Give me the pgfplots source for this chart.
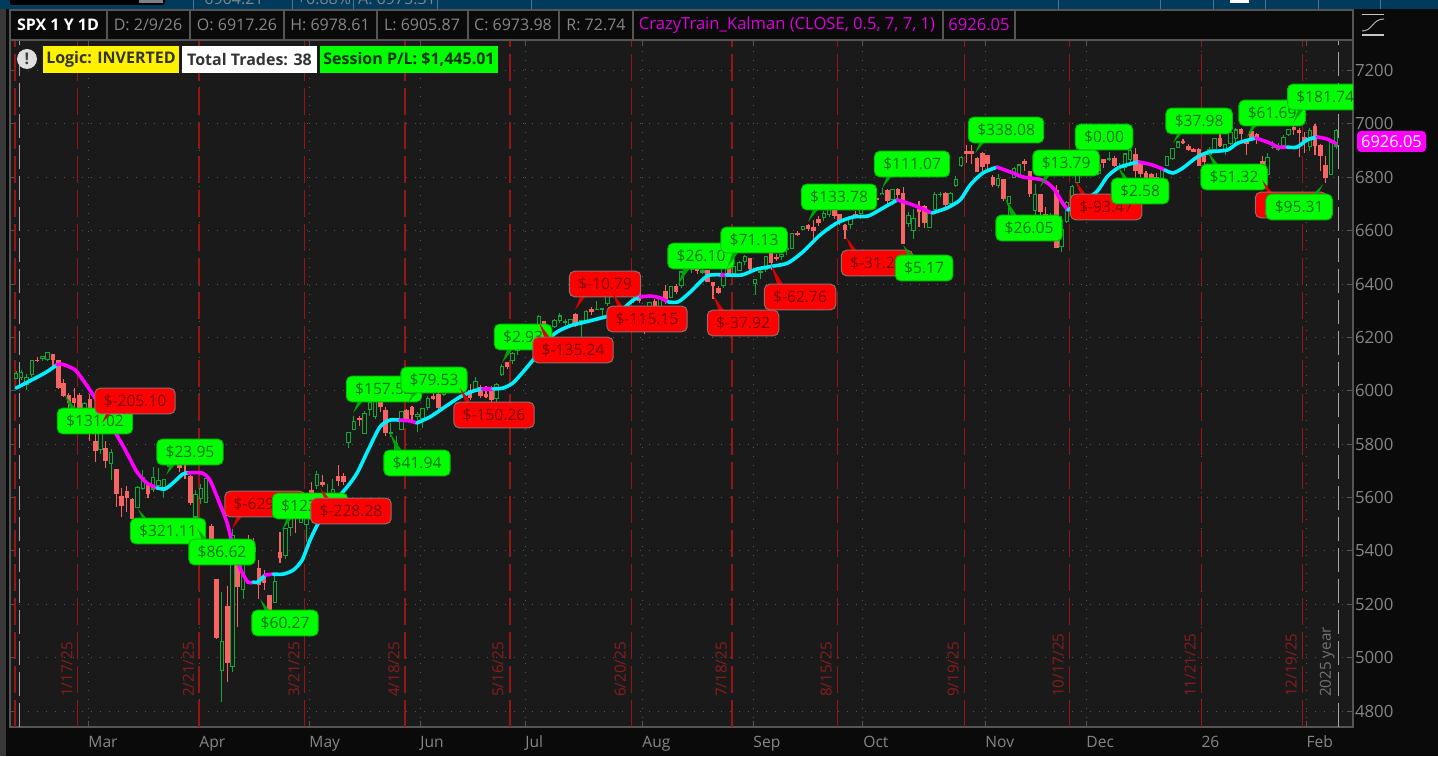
\documentclass[border=0pt]{standalone}
\usepackage{fontspec}
\setmainfont{Open Sans}
\usepackage{pgfplots}
\usepackage{pgfplotstable}
\pgfplotsset{compat=1.18}

\definecolor{chartbg}{HTML}{1A1A1A}
\definecolor{outerbg}{HTML}{0A0A0A}
\definecolor{topblue}{HTML}{003A5C}
\definecolor{frameg}{HTML}{555555}
\definecolor{axistxt}{HTML}{868686}
\definecolor{upgreen}{HTML}{12A838}
\definecolor{downred}{HTML}{F86464}
\definecolor{optred}{HTML}{961616}
\definecolor{optlab}{HTML}{8A1C1C}
\definecolor{kcyan}{HTML}{00F0FF}
\definecolor{kmag}{HTML}{FF00FF}
\definecolor{limeg}{HTML}{00FF00}
\definecolor{pure}{HTML}{FF0000}
\definecolor{gtxt}{HTML}{066F06}
\definecolor{rtxt}{HTML}{7A0000}

% bars: index, open, high, low, close
\pgfplotstableread{
i o h l c
0 6046 6073 6046 6066
1 6049 6076 6042 6068
2 6025 6064 6003 6051
3 6060 6116 6051 6115
5 6121 6130 6111 6129
6 6118 6147 6111 6144
13 5856 5959 5837 5954
16 5781 5860 5762 5842
18 5726 5783 5666 5770
23 5563 5645 5563 5638
24 5635 5703 5629 5675
26 5632 5716 5622 5675
27 5646 5711 5632 5662
28 5630 5670 5603 5667
29 5718 5775 5718 5767
30 5775 5786 5764 5776
34 5527 5627 5488 5611
35 5597 5650 5574 5633
36 5581 5682 5581 5670
39 4953 5246 4835 5062
41 4966 5481 4948 5456
43 5255 5371 5220 5363
49 5207 5306 5207 5287
51 5381 5486 5371 5484
52 5489 5528 5455 5525
54 5508 5572 5505 5560
55 5500 5581 5434 5569
57 5645 5700 5632 5686
59 5606 5649 5590 5606
60 5614 5668 5579 5631
63 5807 5845 5786 5844
64 5854 5906 5853 5886
66 5841 5925 5840 5916
67 5929 5959 5907 5958
68 5902 5968 5896 5963
71 5841 5878 5825 5842
72 5781 5829 5767 5802
73 5855 5922 5855 5921
76 5903 5921 5844 5911
77 5897 5937 5861 5935
78 5938 5981 5929 5970
81 5987 6016 5979 6000
82 6005 6022 5993 6005
83 6009 6044 5999 6038
85 6010 6046 6003 6045
87 6005 6050 6005 6033
91 5970 6028 5943 6025
92 6060 6101 6057 6092
94 6112 6146 6101 6141
95 6150 6187 6133 6173
96 6193 6215 6175 6205
97 6187 6210 6177 6198
98 6192 6227 6187 6227
99 6246 6285 6245 6279
102 6241 6269 6237 6263
103 6263 6290 6255 6280
104 6255 6269 6245 6259
105 6248 6270 6240 6268
107 6248 6267 6202 6263
108 6264 6302 6263 6297
110 6304 6336 6301 6305
111 6306 6310 6281 6309
112 6326 6360 6318 6358
114 6370 6395 6366 6388
120 6287 6330 6287 6330
122 6309 6352 6301 6345
124 6350 6394 6350 6389
126 6395 6447 6386 6445
127 6460 6480 6450 6466
128 6453 6474 6441 6469
130 6445 6456 6438 6449
134 6394 6480 6385 6467
136 6440 6468 6436 6465
137 6452 6486 6452 6481
138 6483 6508 6470 6502
140 6401 6416 6360 6416
141 6445 6458 6417 6448
142 6456 6503 6446 6502
145 6505 6512 6490 6512
146 6530 6542 6510 6532
147 6533 6588 6532 6588
149 6603 6619 6602 6615
153 6650 6672 6635 6664
154 6660 6696 6651 6694
158 6622 6650 6605 6644
160 6665 6690 6645 6688
161 6685 6718 6680 6711
164 6735 6760 6732 6740
166 6718 6755 6716 6753
169 6625 6670 6612 6655
170 6600 6680 6570 6645
173 6610 6665 6610 6664
174 6680 6745 6678 6735
175 6735 6745 6725 6736
177 6700 6745 6695 6738
178 6770 6805 6765 6792
179 6845 6880 6840 6875
186 6770 6812 6760 6796
188 6700 6730 6660 6728
189 6800 6840 6798 6832
190 6810 6850 6805 6846
193 6675 6775 6650 6735
196 6620 6665 6600 6642
198 6540 6655 6520 6603
199 6635 6710 6630 6705
200 6700 6770 6690 6766
201 6780 6815 6775 6813
202 6820 6850 6815 6849
203 6810 6845 6805 6812
205 6815 6850 6810 6849
207 6866 6895 6860 6870
209 6835 6855 6830 6840
210 6835 6890 6825 6887
211 6865 6905 6845 6901
217 6790 6835 6785 6834
218 6845 6880 6845 6878
219 6870 6910 6865 6909
220 6910 6935 6908 6932
226 6885 6915 6880 6902
227 6905 6945 6895 6944
229 6905 6925 6885 6921
230 6925 6980 6920 6966
231 6945 6985 6930 6977
237 6810 6890 6790 6875
238 6910 6935 6905 6913
239 6905 6930 6900 6916
240 6920 6960 6920 6950
241 6960 6980 6955 6978
245 6915 6985 6900 6976
249 6810 6940 6810 6932
250 6917 6979 6906 6974
}\upbars

\pgfplotstableread{
i o h l c
4 6115 6127 6107 6114
7 6134 6134 6084 6117
8 6114 6115 6008 6013
9 6027 6043 5977 5983
10 5982 5992 5908 5955
11 5970 6009 5932 5956
12 5981 5993 5858 5861
14 5968 5986 5810 5849
15 5811 5865 5732 5778
17 5785 5812 5711 5738
19 5705 5705 5565 5614
20 5604 5636 5528 5572
21 5624 5642 5546 5599
22 5594 5597 5504 5521
25 5654 5654 5597 5614
31 5781 5785 5696 5712
32 5695 5732 5670 5693
33 5679 5685 5572 5580
37 5492 5500 5390 5396
38 5292 5292 5069 5074
40 5193 5267 4910 4982
42 5354 5354 5115 5268
44 5441 5460 5359 5405
45 5411 5450 5386 5396
46 5335 5367 5220 5275
47 5305 5328 5255 5283
48 5232 5233 5101 5158
50 5395 5469 5356 5375
53 5529 5553 5468 5528
56 5626 5659 5597 5604
58 5655 5683 5640 5650
61 5680 5720 5644 5663
62 5677 5691 5646 5660
65 5897 5907 5868 5892
69 5981 5987 5922 5940
70 5927 5939 5830 5844
74 5926 5930 5883 5888
75 5939 5944 5879 5912
79 5978 5990 5967 5970
80 5985 5999 5921 5939
84 6050 6060 6003 6022
86 6000 6026 5964 5976
88 6012 6023 5974 5982
89 5987 6018 5971 5980
90 6005 6018 5952 5967
93 6104 6108 6081 6092
100 6260 6263 6201 6229
101 6230 6242 6216 6225
106 6285 6292 6240 6243
109 6305 6315 6285 6296
113 6368 6382 6360 6363
115 6397 6401 6375 6389
116 6410 6410 6362 6371
117 6379 6394 6328 6362
118 6427 6428 6330 6339
119 6287 6288 6212 6238
121 6336 6345 6293 6299
123 6372 6395 6325 6340
125 6390 6400 6361 6373
129 6478 6481 6437 6450
131 6449 6454 6408 6411
132 6407 6408 6343 6396
133 6384 6393 6363 6370
135 6460 6466 6438 6439
139 6495 6495 6444 6460
143 6530 6533 6451 6482
144 6498 6511 6485 6495
148 6590 6600 6580 6584
150 6620 6626 6600 6607
151 6610 6639 6552 6600
152 6640 6656 6618 6632
155 6692 6698 6642 6656
156 6660 6662 6620 6638
157 6620 6624 6570 6605
159 6662 6675 6650 6661
162 6732 6733 6700 6715
163 6722 6750 6705 6715
165 6750 6755 6700 6714
167 6755 6758 6710 6735
168 6740 6765 6550 6553
171 6680 6710 6615 6671
172 6690 6695 6610 6630
176 6738 6745 6685 6699
180 6895 6920 6855 6890
181 6895 6920 6850 6890
182 6870 6875 6820 6822
183 6890 6895 6825 6840
184 6880 6880 6825 6852
185 6800 6810 6765 6772
187 6790 6795 6710 6720
191 6860 6870 6825 6850
192 6820 6825 6725 6738
194 6735 6735 6650 6672
195 6660 6690 6605 6618
197 6750 6770 6535 6538
204 6830 6850 6810 6829
206 6865 6865 6835 6857
208 6872 6880 6840 6846
212 6885 6910 6800 6827
213 6860 6862 6800 6816
214 6815 6825 6775 6800
215 6810 6815 6720 6722
216 6800 6815 6768 6775
221 6935 6945 6925 6929
222 6915 6925 6900 6905
223 6905 6910 6895 6896
224 6905 6910 6845 6845
225 6880 6895 6825 6858
228 6945 6965 6915 6920
232 6978 6985 6935 6963
233 6935 6945 6885 6926
234 6970 6985 6940 6944
235 6960 6965 6925 6940
236 6860 6880 6790 6797
242 6985 7002 6960 6978
243 6975 6985 6875 6969
244 6950 6970 6890 6939
246 6990 7000 6885 6918
247 6920 6925 6825 6883
248 6845 6880 6780 6798
}\downbars

\pgfplotsset{
  segbar/.style 2 args={draw=none, mark=none, forget plot,
    error bars/.cd, y dir=plus, y explicit, error mark=none,
    error bar style={draw=#1, line width=#2, solid, line cap=butt}},
  kal/.style={#1, line width=1.8pt, smooth, tension=0.45, mark=none, forget plot, line cap=round},
}

% annotations are given in screen pixels of the reference
\newcommand{\bub}[7][10]{%
  \fill[#2tip] (axis cs:{(#5-16)/5.28},{7200-(#6-70.5)*3.747})
    -- (axis cs:{(#5+#1-16)/5.28},{7200-(#4-70.5)*3.747})
    -- (axis cs:{(#5+#1+10-16)/5.28},{7200-(#4-70.5)*3.747}) -- cycle;
  \node[#2bub] at (axis cs:{(#3-16)/5.28},{7200-(#4-70.5)*3.747}) {\$#7};
}
\newcommand{\optlabel}[2]{%
  \node[rotate=90, anchor=west, inner sep=0pt, text=optlab, font=\fontsize{7.6}{9}\selectfont]
    at (axis cs:{(#1-16)/5.28},4852) {#2};
}

\tikzset{
  bubbase/.style={rounded corners=2.6pt, minimum height=12.8pt, inner ysep=0pt, inner xsep=4.4pt,
    line width=.5pt, font=\fontsize{7.8}{9}\selectfont},
  gbub/.style={bubbase, fill=limeg, draw=limeg!75!black, text=gtxt},
  rbub/.style={bubbase, fill=pure, draw=gray!85!red, text=rtxt},
  gtip/.style={fill=limeg!65!black},
  rtip/.style={fill=pure!85!black},
  hdr/.style={font=\fontsize{8}{9}\selectfont, text=axistxt, inner sep=0pt},
  chip/.style={font=\bfseries\fontsize{8}{9}\selectfont, inner sep=0pt, anchor=center},
}

\begin{document}
\begin{tikzpicture}
\useasboundingbox[fill=outerbg] (0,0) rectangle (719pt,378pt);

\begin{axis}[
  at={(5pt,14.5pt)}, anchor=south west,
  scale only axis, width=671.5pt, height=343.5pt,
  xmin=-1.136, xmax=253.2, ymin=4740.1, ymax=7314.3,
  axis background/.style={fill=chartbg},
  axis line style={draw=frameg, line width=.7pt},
  tick style={draw=frameg, line width=.5pt},
  tick align=inside, major tick length=3pt,
  xtick={13.64,34.66,55.49,76.52,96.4,118.56,139.58,160.4,183.52,202.65,224.43,244.32},
  xticklabels={Mar,Apr,May,Jun,Jul,Aug,Sep,Oct,Nov,Dec,26,Feb},
  ytick={4800,5000,5200,5400,5600,5800,6000,6200,6400,6600,6800,7000,7200},
  xticklabel pos=lower, yticklabel pos=right,
  xticklabel style={anchor=base west, inner sep=0pt, yshift=-10.3pt, text=axistxt, font=\fontsize{7.8}{9}\selectfont},
  yticklabel style={anchor=west, inner sep=0pt, xshift=.8pt, text=axistxt, font=\fontsize{8.4}{9}\selectfont,
    /pgf/number format/assume math mode=true, /pgf/number format/set thousands separator={}},
  grid=major,
  major grid style={draw=frameg, line width=.5pt, dash pattern=on .5pt off 4pt},
]

% option expiry and range markers
\pgfplotsinvokeforeach{-0.19,11.65,34.66,54.55,73.67,93.56,116.48,135.6,155.5,179.55,199.43,224.43,243.56}{
  \draw[optred, line width=.55pt, dash pattern=on 13.5pt off 3.5pt] (axis cs:#1,4740.1) -- (axis cs:#1,7314.3);
}
\pgfplotsinvokeforeach{0.57,250.38}{
  \draw[gray!70, line width=.5pt, dash pattern=on 12pt off 3.5pt] (axis cs:#1,4740.1) -- (axis cs:#1,7314.3);
}
\optlabel{67}{1/17/25}
\optlabel{188.5}{2/21/25}
\optlabel{294}{3/21/25}
\optlabel{394}{4/18/25}
\optlabel{498}{5/16/25}
\optlabel{620}{6/20/25}
\optlabel{721}{7/18/25}
\optlabel{826}{8/15/25}
\optlabel{953}{9/19/25}
\optlabel{1058}{10/17/25}
\optlabel{1190}{11/21/25}
\optlabel{1291}{12/19/25}
\node[rotate=90, anchor=west, inner sep=0pt, text=gray!90!black, font=\fontsize{7.6}{9}\selectfont]
  at (axis cs:{(1327-16)/5.28},4852) {2025 year};

% candles: wicks, then bodies (up bars are hollow)
\addplot[segbar={upgreen}{.5pt}] table[x=i, y=l, y error plus expr={\thisrow{h}-\thisrow{l}}] {\upbars};
\addplot[segbar={downred}{.55pt}] table[x=i, y=l, y error plus expr={\thisrow{h}-\thisrow{l}}] {\downbars};
\addplot[segbar={upgreen}{2.2pt}] table[x=i, y expr={\thisrow{o}-2}, y error plus expr={\thisrow{c}-\thisrow{o}+4}] {\upbars};
\addplot[segbar={chartbg}{1.2pt}] table[x=i, y expr={\thisrow{o}+2}, y error plus expr={max(\thisrow{c}-\thisrow{o}-4,0)}] {\upbars};
\addplot[segbar={downred}{2.3pt}] table[x=i, y expr={\thisrow{c}-2}, y error plus expr={\thisrow{o}-\thisrow{c}+4}] {\downbars};

% Kalman line, one piece per trend state
\addplot[kal=kcyan] coordinates {(0,6010) (2.65,6037) (5.5,6067) (7.77,6097)};
\addplot[kal=kmag] coordinates {(7.77,6097) (8.7,6100) (11.2,6078) (13.07,6029) (14.6,5984) (19.1,5834) (21,5767) (22.9,5696) (24.8,5654) (26.7,5636)};
\addplot[kal=kcyan] coordinates {(26.7,5636) (28.2,5632) (29.7,5654) (31.6,5688) (32.6,5692)};
\addplot[kal=kmag] coordinates {(32.6,5692) (35.2,5692) (36.7,5666) (38.3,5591) (40,5504) (41.1,5415) (42.4,5336) (43.9,5283) (44.9,5283)};
\addplot[kal=kcyan] coordinates {(44.9,5283) (45.8,5283) (47.2,5310)};
\addplot[kal=kmag] coordinates {(47.2,5310) (48.7,5313)};
\addplot[kal=kcyan] coordinates {(48.7,5313) (50.6,5313) (52.5,5328) (54.2,5366) (55.7,5441) (57.6,5516) (60,5579) (62.7,5639) (64.6,5692) (66.7,5778) (68.9,5864) (70.8,5890) (72.7,5890)};
\addplot[kal=kmag] coordinates {(72.7,5890) (74.6,5887) (75.9,5879)};
\addplot[kal=kcyan] coordinates {(75.9,5879) (78.4,5902) (80.9,5935) (84.1,5977) (86.6,5999) (88.4,6007)};
\addplot[kal=kmag] coordinates {(88.4,6007) (90.3,6007)};
\addplot[kal=kcyan] coordinates {(90.3,6007) (92.2,6010) (94.1,6029) (96,6070) (97.9,6115) (101.7,6209) (104.9,6243) (109.3,6265) (113.8,6291) (116.9,6340) (118.2,6351)};
\addplot[kal=kmag] coordinates {(118.2,6351) (120.1,6355) (122,6348) (123.5,6333)};
\addplot[kal=kcyan] coordinates {(123.5,6333) (125.4,6333) (127.7,6370) (130.9,6430) (133.7,6434)};
\addplot[kal=kmag] coordinates {(133.7,6434) (134.5,6434)};
\addplot[kal=kcyan] coordinates {(134.5,6434) (137.5,6434) (140.3,6456) (143.4,6467) (146.2,6479) (149,6520) (152.3,6584) (155.5,6629) (158.5,6651) (161.4,6655) (164.2,6685) (166.9,6715)};
\addplot[kal=kmag] coordinates {(166.9,6715) (169.9,6696) (173.5,6666)};
\addplot[kal=kcyan] coordinates {(173.5,6666) (176.3,6685) (178.8,6715) (180.7,6771) (183.1,6816) (185.8,6838)};
\addplot[kal=kmag] coordinates {(185.8,6838) (188.8,6816) (190.7,6801) (194.3,6790) (196.4,6760) (198.1,6707) (199.2,6677)};
\addplot[kal=kcyan] coordinates {(199.2,6677) (204.4,6741) (206.6,6801) (208.7,6835) (211,6850) (212.7,6857)};
\addplot[kal=kmag] coordinates {(212.7,6857) (215.2,6846) (217.6,6827)};
\addplot[kal=kcyan] coordinates {(217.6,6827) (219.1,6816) (221,6835) (223.7,6876) (226.1,6895) (229.4,6902) (231.4,6928) (234.8,6947)};
\addplot[kal=kmag] coordinates {(234.8,6947) (237.5,6928) (239,6913) (240.7,6913)};
\addplot[kal=kcyan] coordinates {(240.7,6913) (242.6,6913) (244.5,6940) (246.4,6951)};
\addplot[kal=kmag] coordinates {(246.4,6951) (248.3,6943) (250,6926.05)};

% trade bubbles
\bub{g}{95}{421}{65}{395}{131.02}
\bub{r}{135}{401}{102}{423}{-205.10}
\bub{g}{190}{452}{166}{475}{23.95}
\bub{g}{168}{531}{138}{509}{321.11}
\bub{g}{222}{552}{197}{528}{86.62}
\bub{r}{265}{504}{232}{529}{-629.50}
\bub{g}{310}{506}{282}{530}{123.40}
\bub{r}{351}{511}{320}{488}{-228.28}
\bub{g}{285}{623}{260}{599}{60.27}
\bub{g}{384}{389}{353}{413}{157.52}
\bub{g}{434}{380}{408}{403}{79.53}
\bub{g}{417}{463}{390}{433}{41.94}
\bub{r}{494}{415}{460}{388}{-150.26}
\bub{g}{523}{337}{502}{363}{2.93}
\bub{r}{573}{350}{539}{323}{-135.24}
\bub{r}{605}{284}{575}{310}{-10.79}
\bub{r}{647}{319}{612}{292}{-115.15}
\bub{g}{701}{256}{678}{285}{26.10}
\bub{g}{754}{240}{727}{268}{71.13}
\bub{r}{743}{323}{713}{295}{-37.92}
\bub{r}{800}{297}{771}{265}{-62.76}
\bub{g}{839}{197}{808}{222}{133.78}
\bub{r}{877}{263}{846}{237}{-31.25}
\bub{g}{924}{268}{903}{245}{5.17}
\bub{g}{912}{164}{882}{188}{111.07}
\bub{g}{1006}{130}{975}{153}{338.08}
\bub{g}{1029}{228}{1005}{198}{26.05}
\bub{g}{1104}{137}{1085}{158}{0.00}
\bub{g}{1066}{163}{1040}{187}{13.79}
\bub{r}{1106}{207}{1075}{180}{-93.47}
\bub{g}{1140}{191}{1118}{167}{2.58}
\bub{g}{1199}{121}{1173}{143}{37.98}
\bub{g}{1234}{177}{1208}{152}{51.32}
\bub{g}{1272}{113}{1247}{137}{61.69}
\bub{g}{1325}{97}{1293}{123}{181.74}
\bub{r}{1291}{205}{1262}{180}{-74.60}
\bub[-22]{g}{1299}{207}{1323}{184}{95.31}
\end{axis}

% platform chrome, in reference pixels
\begin{scope}[x=.5pt, y=-.5pt, yshift=378pt]
  \fill[black!78] (0,0) rectangle (6,756);
  \fill[topblue] (0,0) rectangle (1438,9.5);
  \begin{scope}
    \clip (0,0) rectangle (1438,9.5);
    \node[hdr] at (234,-1) {6964.21};
    \node[hdr] at (324,-1) {+0.88\%};
    \node[hdr] at (397,-1) {A: 6975.31};
    \foreach \s in {193,292,353,437,531,1058,1160,1213,1265,1318,1380}
      \draw[topblue!70!white, line width=.3pt] (\s,0) -- (\s,9.5);
    \fill[black, rounded corners=1pt] (10,-4) rectangle (165,5);
    \fill[gray] (139,-4) rectangle (163,3);
    \fill[white] (1230,-2) rectangle (1249,3);
  \end{scope}
  % header row
  \fill[outerbg] (10,10) rectangle (1353,40);
  \draw[frameg, line width=.6pt] (10,10) rectangle (1353,40);
  \foreach \s in {107,190,284,377,468,559,633,943,1015}
    \draw[frameg, line width=.6pt] (\s,10) -- (\s,40);
  \node[hdr, text=white, font=\bfseries\fontsize{8}{9}\selectfont] at (58,25) {SPX 1 Y 1D};
  \node[hdr] at (148,25) {D: 2/9/26};
  \node[hdr] at (237,25) {O: 6917.26};
  \node[hdr] at (330,25) {H: 6978.61};
  \node[hdr] at (422,25) {L: 6905.87};
  \node[hdr] at (513,25) {C: 6973.98};
  \node[hdr] at (596,25) {R: 72.74};
  \node[hdr, text=kmag!85!black, font=\fontsize{8.3}{9}\selectfont] at (787,25) {CrazyTrain\_Kalman (CLOSE, 0.5, 7, 7, 1)};
  \node[hdr, text=kmag!85!black, font=\fontsize{8.3}{9}\selectfont] at (979,25) {6926.05};
  % status chips
  \fill[gray!25] (27,59) circle (10);
  \node[font=\bfseries\fontsize{8}{9}\selectfont, text=black!75, inner sep=0pt] at (27,59) {!};
  \fill[yellow] (43,46) rectangle (179,73);
  \node[chip, text=black!80] at (111,59.5) {Logic: INVERTED};
  \fill[white] (182,46) rectangle (317,73);
  \node[chip, text=black!80] at (249.5,59.5) {Total Trades: 38};
  \fill[limeg] (320,46) rectangle (498,73);
  \node[chip, text=black!80!green] at (409,59.5) {Session P/L: \$1,445.01};
  % current value flag
  \fill[kmag, rounded corners=2pt] (1357,131) rectangle (1426,152);
  \node[font=\fontsize{8.2}{9}\selectfont, text=white, inner sep=0pt] at (1391.5,141.5) {6926.05};
  % study icon
  \draw[gray!45, line width=.9pt] (1362,14.5) -- (1384,14.5) (1362,35) -- (1384,35);
  \draw[gray!65, line width=.5pt] (1362,31) .. controls (1373,31) and (1372,19) .. (1384,19);
\end{scope}
\end{tikzpicture}
\end{document}
